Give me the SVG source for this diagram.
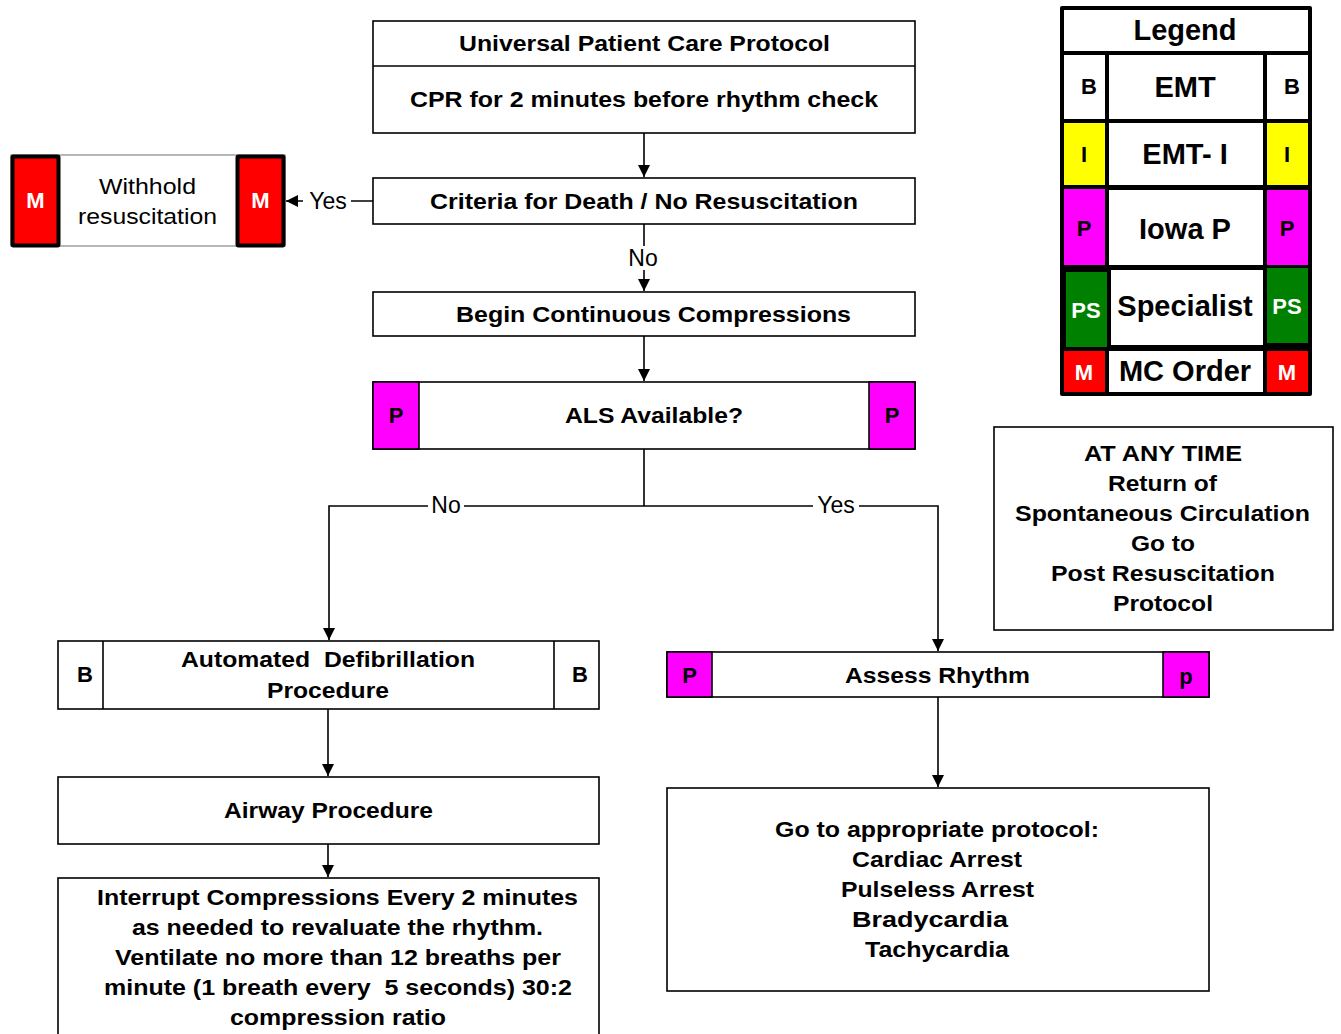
<svg xmlns="http://www.w3.org/2000/svg" width="1341" height="1034" viewBox="0 0 1341 1034">
<defs>
<marker id="ah" viewBox="0 0 12 12" refX="12" refY="6" markerWidth="12" markerHeight="12" markerUnits="userSpaceOnUse" orient="auto">
<path d="M0,0 L12,6 L0,12 z" fill="#000"/>
</marker>
<style>
.box{fill:#fff;stroke:#000;stroke-width:1.6}
.t{font-family:"Liberation Sans",Arial,sans-serif;font-weight:bold;font-size:22px;text-anchor:middle;fill:#000}
.r{font-family:"Liberation Sans",Arial,sans-serif;font-size:22px;text-anchor:middle;fill:#000}
.lg{font-family:"Liberation Sans",Arial,sans-serif;font-weight:bold;font-size:29px;text-anchor:middle;fill:#000}
.mag{fill:#ff00ff;stroke:#000;stroke-width:1.6}
.ln{fill:none;stroke:#000;stroke-width:1.6}
.lbl{font-family:"Liberation Sans",Arial,sans-serif;font-size:23px;text-anchor:middle;fill:#000}
</style>
</defs>
<rect width="1341" height="1034" fill="#fff"/>

<g id="connectors">
<line class="ln" x1="644" y1="133" x2="644" y2="177" marker-end="url(#ah)"/>
<line class="ln" x1="373" y1="201" x2="286" y2="201" marker-end="url(#ah)"/>
<line class="ln" x1="644" y1="224" x2="644" y2="291" marker-end="url(#ah)"/>
<line class="ln" x1="644" y1="336" x2="644" y2="381" marker-end="url(#ah)"/>
<line class="ln" x1="644" y1="449" x2="644" y2="506"/>
<polyline class="ln" points="644,506 329,506 329,640" marker-end="url(#ah)"/>
<polyline class="ln" points="644,506 938,506 938,651" marker-end="url(#ah)"/>
<line class="ln" x1="328" y1="709" x2="328" y2="776" marker-end="url(#ah)"/>
<line class="ln" x1="328" y1="844" x2="328" y2="877" marker-end="url(#ah)"/>
<line class="ln" x1="938" y1="697" x2="938" y2="787" marker-end="url(#ah)"/>
<rect x="303" y="190" width="48" height="22" fill="#fff"/>
<text class="lbl" x="328" y="209">Yes</text>
<rect x="624" y="246" width="40" height="24" fill="#fff"/>
<text class="lbl" x="643" y="266">No</text>
<rect x="428" y="494" width="36" height="24" fill="#fff"/>
<text class="lbl" x="446" y="513">No</text>
<rect x="813" y="494" width="46" height="24" fill="#fff"/>
<text class="lbl" x="836" y="513">Yes</text>
</g>

<g id="universal">
<rect class="box" x="373" y="21" width="542" height="112"/>
<line class="ln" x1="373" y1="66" x2="915" y2="66"/>
<text class="t" x="644.5" y="51" textLength="371" lengthAdjust="spacingAndGlyphs">Universal Patient Care Protocol</text>
<text class="t" x="644" y="107" textLength="468" lengthAdjust="spacingAndGlyphs">CPR for 2 minutes before rhythm check</text>
</g>

<g id="criteria">
<rect class="box" x="373" y="178" width="542" height="46"/>
<text class="t" x="644" y="209" textLength="428" lengthAdjust="spacingAndGlyphs">Criteria for Death / No Resuscitation</text>
</g>

<g id="withhold">
<rect x="11" y="155" width="274" height="91" fill="#fff" stroke="#888" stroke-width="1.2"/>
<rect x="12.5" y="156.5" width="46" height="89" fill="#ff0000" stroke="#000" stroke-width="4" rx="1"/>
<rect x="237.5" y="156.5" width="46" height="89" fill="#ff0000" stroke="#000" stroke-width="4" rx="1"/>
<text class="t" x="35.5" y="208" style="fill:#fff">M</text>
<text class="t" x="260.5" y="208" style="fill:#fff">M</text>
<text class="r" x="147.5" y="194" textLength="97" lengthAdjust="spacingAndGlyphs">Withhold</text>
<text class="r" x="147.5" y="224" textLength="139" lengthAdjust="spacingAndGlyphs">resuscitation</text>
</g>

<g id="begin">
<rect class="box" x="373" y="292" width="542" height="44"/>
<text class="t" x="653.5" y="322" textLength="395" lengthAdjust="spacingAndGlyphs">Begin Continuous Compressions</text>
</g>

<g id="als">
<rect class="box" x="373" y="382" width="542" height="67"/>
<rect class="mag" x="373" y="382" width="46" height="67"/>
<rect class="mag" x="869" y="382" width="46" height="67"/>
<text class="t" x="396" y="423">P</text>
<text class="t" x="892" y="423">P</text>
<text class="t" x="654" y="423" textLength="178" lengthAdjust="spacingAndGlyphs">ALS Available?</text>
</g>

<g id="aed">
<rect class="box" x="58" y="641" width="541" height="68"/>
<line class="ln" x1="103" y1="641" x2="103" y2="709"/>
<line class="ln" x1="554" y1="641" x2="554" y2="709"/>
<text class="t" x="85" y="682">B</text>
<text class="t" x="580" y="682">B</text>
<text class="t" x="328" y="667" textLength="294" lengthAdjust="spacingAndGlyphs" xml:space="preserve">Automated  Defibrillation</text>
<text class="t" x="328" y="698" textLength="122" lengthAdjust="spacingAndGlyphs">Procedure</text>
</g>

<g id="airway">
<rect class="box" x="58" y="777" width="541" height="67"/>
<text class="t" x="328.5" y="818" textLength="209" lengthAdjust="spacingAndGlyphs">Airway Procedure</text>
</g>

<g id="interrupt">
<rect class="box" x="58" y="878" width="541" height="170"/>
<text class="t" x="337.5" y="905" textLength="481" lengthAdjust="spacingAndGlyphs">Interrupt Compressions Every 2 minutes</text>
<text class="t" x="337.5" y="935" textLength="411" lengthAdjust="spacingAndGlyphs">as needed to revaluate the rhythm.</text>
<text class="t" x="338" y="965" textLength="446" lengthAdjust="spacingAndGlyphs">Ventilate no more than 12 breaths per</text>
<text class="t" x="338" y="995" textLength="468" lengthAdjust="spacingAndGlyphs" xml:space="preserve">minute (1 breath every  5 seconds) 30:2</text>
<text class="t" x="338" y="1025" textLength="216" lengthAdjust="spacingAndGlyphs">compression ratio</text>
</g>

<g id="assess">
<rect class="box" x="667" y="652" width="542" height="45"/>
<rect class="mag" x="667" y="652" width="45" height="45"/>
<rect class="mag" x="1163" y="652" width="46" height="45"/>
<text class="t" x="689.5" y="683">P</text>
<text class="t" x="1186" y="684">p</text>
<text class="t" x="937.5" y="683" textLength="185" lengthAdjust="spacingAndGlyphs">Assess Rhythm</text>
</g>

<g id="goto">
<rect class="box" x="667" y="788" width="542" height="203"/>
<text class="t" x="937" y="837" textLength="324" lengthAdjust="spacingAndGlyphs">Go to appropriate protocol:</text>
<text class="t" x="937" y="867" textLength="170" lengthAdjust="spacingAndGlyphs">Cardiac Arrest</text>
<text class="t" x="937.5" y="897" textLength="193" lengthAdjust="spacingAndGlyphs">Pulseless Arrest</text>
<text class="t" x="930" y="927" textLength="156" lengthAdjust="spacingAndGlyphs">Bradycardia</text>
<text class="t" x="937" y="957" textLength="144" lengthAdjust="spacingAndGlyphs">Tachycardia</text>
</g>

<g id="anytime">
<rect class="box" x="994" y="427" width="339" height="203"/>
<text class="t" x="1163" y="461" textLength="158" lengthAdjust="spacingAndGlyphs">AT ANY TIME</text>
<text class="t" x="1162.5" y="491" textLength="109" lengthAdjust="spacingAndGlyphs">Return of</text>
<text class="t" x="1162.5" y="521" textLength="295" lengthAdjust="spacingAndGlyphs">Spontaneous Circulation</text>
<text class="t" x="1163" y="551" textLength="64" lengthAdjust="spacingAndGlyphs">Go to</text>
<text class="t" x="1163" y="581" textLength="224" lengthAdjust="spacingAndGlyphs">Post Resuscitation</text>
<text class="t" x="1163" y="611" textLength="100" lengthAdjust="spacingAndGlyphs">Protocol</text>
</g>

<g id="legend">
<rect x="1060" y="6" width="252" height="390" rx="2" fill="#000"/>
<rect x="1064" y="10" width="244" height="41" fill="#fff"/>
<text class="lg" x="1185" y="40">Legend</text>
<rect x="1064" y="55" width="41" height="64" fill="#fff"/>
<rect x="1109" y="55" width="154" height="64" fill="#fff"/>
<rect x="1267" y="55" width="41" height="64" fill="#fff"/>
<text class="t" x="1089" y="94">B</text>
<text class="lg" x="1185" y="97">EMT</text>
<text class="t" x="1292" y="94">B</text>
<rect x="1064" y="123" width="41" height="62" fill="#ffff00"/>
<rect x="1109" y="123" width="154" height="62" fill="#fff"/>
<rect x="1267" y="123" width="41" height="62" fill="#ffff00"/>
<text class="t" x="1084" y="162">I</text>
<text class="lg" x="1185" y="164">EMT- I</text>
<text class="t" x="1287" y="162">I</text>
<rect x="1064" y="189" width="41" height="76" fill="#ff00ff"/>
<rect x="1109" y="190" width="154" height="75" fill="#fff"/>
<rect x="1267" y="190" width="41" height="75" fill="#ff00ff"/>
<text class="t" x="1084" y="236">P</text>
<text class="lg" x="1185" y="239">Iowa P</text>
<text class="t" x="1287" y="236">P</text>
<rect x="1066" y="272" width="41" height="75" fill="#008000"/>
<rect x="1111" y="270" width="152" height="75" fill="#fff"/>
<rect x="1267" y="268" width="41" height="75" fill="#008000"/>
<text class="t" x="1086" y="318" style="fill:#fff">PS</text>
<text class="lg" x="1185" y="316">Specialist</text>
<text class="t" x="1287" y="314" style="fill:#fff">PS</text>
<rect x="1064" y="351" width="41" height="41" fill="#ff0000"/>
<rect x="1109" y="351" width="154" height="41" fill="#fff"/>
<rect x="1267" y="351" width="41" height="41" fill="#ff0000"/>
<text class="t" x="1084" y="380" style="fill:#fff">M</text>
<text class="lg" x="1185" y="381">MC Order</text>
<text class="t" x="1287" y="380" style="fill:#fff">M</text>
</g>
</svg>
